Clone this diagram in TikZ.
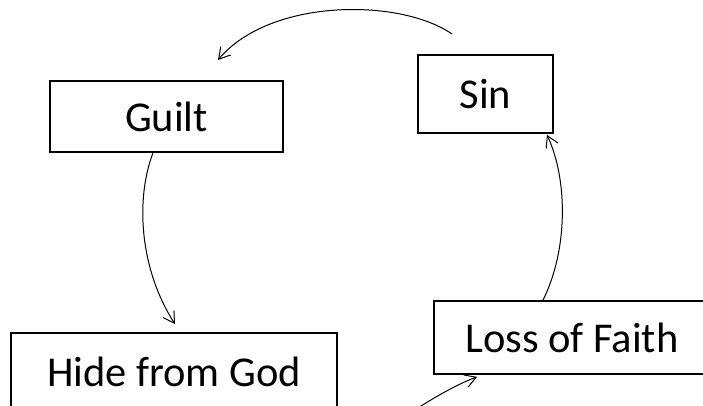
\documentclass[tikz,border=0pt]{standalone}
\usepackage{fontspec}
\setmainfont{Carlito}
\usetikzlibrary{arrows.meta,calc}
\tikzset{
  box/.style={draw=black, line width=1.8pt, fill=white, rectangle, inner sep=0pt,
    font=\fontsize{42.5}{50}\selectfont},
  link/.style={draw=black, line width=1pt, -{Straight Barb[length=11pt,width=13pt,line width=1pt]}}
}
\begin{document}
\begin{tikzpicture}[x=1pt,y=-1pt]
\useasboundingbox (0,0) rectangle (703,406);
\clip (0,0) rectangle (703,406);
\fill[white] (0,0) rectangle (703,406);
\node[box, minimum width=233pt, minimum height=71pt] (guilt) at (166.5,116.5) {Guilt};
\node[box, minimum width=135pt, minimum height=78pt] (sin) at (485.5,94) {Sin};
\node[box, minimum width=326pt, minimum height=78pt] (hide) at (174,372) {Hide from God};
\node[box, minimum width=276pt, minimum height=73pt] (loss) at (572,337.5) {Loss of Faith};
\coordinate (topstart) at (452,34);
\coordinate (topend) at (218,60);
\coordinate (botstart) at (405,416);
\draw[link] (topstart) .. controls (400,-2) and (270,-2) .. (topend);
\draw[link] ($(guilt.south)+(-13.5,0)$) .. controls (135,200) and (140,270) .. ($(hide.north)+(1,-8)$);
\draw[link] ($(loss.north)+(-29,0)$) .. controls (568,250) and (568,180) .. ($(sin.south)+(61.5,1)$);
\draw[link] (botstart) .. controls (430,400) and (455,385) .. ($(loss.south west)+(44,2)$);
\end{tikzpicture}
\end{document}
